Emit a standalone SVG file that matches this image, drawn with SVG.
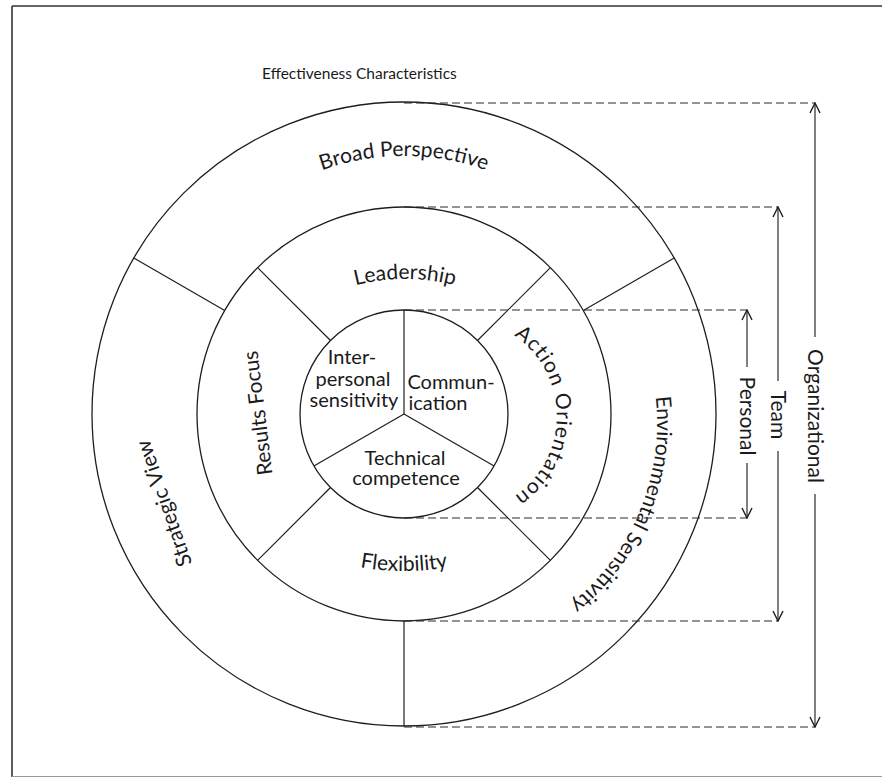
<svg xmlns="http://www.w3.org/2000/svg" width="882" height="778" viewBox="0 0 882 778">
<style>
  text { font-family: Lato, "Open Sans", "Liberation Sans", sans-serif; fill: #1a1a1a; }
  .ring { fill: none; stroke: #1e1e1e; stroke-width: 1.3; }
  .div { stroke: #1e1e1e; stroke-width: 1.2; }
  .dash { stroke: #2a2a2a; stroke-width: 1.2; stroke-dasharray: 8 4; fill: none; }
  .dim { stroke: #2a2a2a; stroke-width: 1.2; fill: none; marker-end: url(#arr); }
  .lbl { font-size: 21px; }
  .ctr { font-size: 20px; text-anchor: middle; }
  .dimlbl { font-size: 21px; text-anchor: middle; }
</style>
<defs>
  <marker id="arr" viewBox="0 0 12 12" refX="11" refY="6" markerWidth="12" markerHeight="12" markerUnits="userSpaceOnUse" orient="auto">
    <path d="M1,1 L11,6 L1,11" fill="none" stroke="#1e1e1e" stroke-width="1.4"/>
  </marker>
  <path id="pBroad" d="M192.7,278 A244,244 0 0 1 615.3,278"/>
  <path id="pLead" d="M231.8,379 A200,200 0 0 1 578.2,379"/>
  <path id="pFlex" d="M187.5,446 A250,250 0 0 0 620.5,446"/>
  <path id="pAction" d="M476.8,320.5 A97,97 0 0 1 476.8,511.5"/>
  <path id="pEnv" d="M581.4,251.6 A232,232 0 0 1 415.3,654.8"/>
</defs>

<g id="frame">
  <line x1="12" y1="6" x2="882" y2="6" stroke="#333" stroke-width="1.6"/>
  <line x1="12" y1="6" x2="12" y2="777" stroke="#333" stroke-width="1.6"/>
  <line x1="12" y1="776.5" x2="882" y2="776.5" stroke="#999" stroke-width="1"/>
</g>

<g id="title">
  <text x="262" y="79" font-size="15.5">Effectiveness Characteristics</text>
</g>

<g id="rings">
  <circle class="ring" cx="404" cy="414" r="312"/>
  <circle class="ring" cx="404" cy="414" r="207"/>
  <circle class="ring" cx="404" cy="414" r="104"/>
  <!-- inner dividers -->
  <line class="div" x1="404" y1="414" x2="404" y2="310"/>
  <line class="div" x1="404" y1="414" x2="313.9" y2="466"/>
  <line class="div" x1="404" y1="414" x2="494.1" y2="466"/>
  <!-- middle ring dividers -->
  <line class="div" x1="330.5" y1="340.5" x2="257.6" y2="267.6"/>
  <line class="div" x1="477.5" y1="340.5" x2="550.4" y2="267.6"/>
  <line class="div" x1="330.5" y1="487.5" x2="257.6" y2="560.4"/>
  <line class="div" x1="477.5" y1="487.5" x2="550.4" y2="560.4"/>
  <!-- outer ring dividers -->
  <line class="div" x1="224.7" y1="310.5" x2="133.8" y2="258"/>
  <line class="div" x1="583.3" y1="310.5" x2="674.2" y2="258"/>
  <line class="div" x1="404" y1="621" x2="404" y2="726"/>
</g>

<g id="node-broad-perspective">
  <text class="lbl"><textPath href="#pBroad" startOffset="50%" text-anchor="middle">Broad Perspective</textPath></text>
</g>
<g id="node-strategic-view">
  <text class="lbl" text-anchor="middle" transform="translate(165,503) rotate(-109)" y="6">Strategic View</text>
</g>
<g id="node-environmental-sensitivity">
  <text class="lbl"><textPath href="#pEnv" startOffset="50%" text-anchor="middle">Environmental Sensitivity</textPath></text>
</g>
<g id="node-leadership">
  <text class="lbl" font-size="23"><textPath href="#pLead" startOffset="50%" text-anchor="middle">Leadership</textPath></text>
</g>
<g id="node-results-focus">
  <text class="lbl" font-size="22" text-anchor="middle" transform="translate(259,413) rotate(-97)" y="6">Results Focus</text>
</g>
<g id="node-action-orientation">
  <text class="lbl" font-size="22.5" letter-spacing="1"><textPath href="#pAction" startOffset="50%" text-anchor="middle">Action Orientation</textPath></text>
</g>
<g id="node-flexibility">
  <text class="lbl" font-size="22"><textPath href="#pFlex" startOffset="50%" text-anchor="middle">Flexibility</textPath></text>
</g>
<g id="node-interpersonal-sensitivity">
  <text class="ctr" x="352" y="364">Inter-</text>
  <text class="ctr" x="353" y="386">personal</text>
  <text class="ctr" x="354" y="407">sensitivity</text>
</g>
<g id="node-communication">
  <text class="ctr" x="451" y="389">Commun-</text>
  <text class="ctr" x="438" y="410">ication</text>
</g>
<g id="node-technical-competence">
  <text class="ctr" x="405" y="465">Technical</text>
  <text class="ctr" x="406" y="485">competence</text>
</g>

<g id="connectors">
  <line class="dash" x1="404" y1="103" x2="815" y2="103"/>
  <line class="dash" x1="404" y1="207" x2="778" y2="207"/>
  <line class="dash" x1="404" y1="310" x2="747" y2="310"/>
  <line class="dash" x1="404" y1="518" x2="747" y2="518"/>
  <line class="dash" x1="404" y1="621" x2="778" y2="621"/>
  <line class="dash" x1="404" y1="727" x2="815" y2="727"/>

  <line class="dim" x1="815" y1="337" x2="815" y2="103"/>
  <line class="dim" x1="815" y1="494" x2="815" y2="727"/>
  <line class="dim" x1="778" y1="381" x2="778" y2="207"/>
  <line class="dim" x1="778" y1="451" x2="778" y2="621"/>
  <line class="dim" x1="747" y1="367" x2="747" y2="310"/>
  <line class="dim" x1="747" y1="463" x2="747" y2="518"/>
</g>

<g id="scale-labels">
  <text class="dimlbl" transform="translate(815,416) rotate(90)" y="7">Organizational</text>
  <text class="dimlbl" transform="translate(778,415) rotate(90)" y="7">Team</text>
  <text class="dimlbl" transform="translate(747,416) rotate(90)" y="7">Personal</text>
</g>
</svg>
